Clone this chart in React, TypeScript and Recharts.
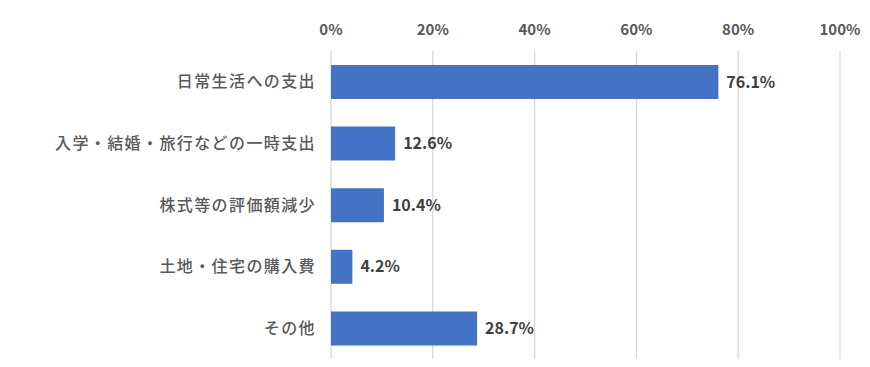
import React from 'react';
import { BarChart, Bar, XAxis, YAxis, CartesianGrid, LabelList } from 'recharts';

const categories = ['日常生活への支出', '入学・結婚・旅行などの一時支出', '株式等の評価額減少', '土地・住宅の購入費', 'その他'];
const shares = [76.1, 12.6, 10.4, 4.2, 28.7];
const xTicks = [0, 20, 40, 60, 80, 100];

const data = categories.map((name, i) => ({ name, value: shares[i] }));

const FONT = '"Noto Sans CJK JP", "Noto Sans", sans-serif';

const App: React.FC = () => {
  return (
    <div style={{ position: 'absolute', left: 0, top: 0, width: 870, height: 367, background: '#fff' }}>
      <BarChart
        width={870}
        height={367}
        data={data}
        layout="vertical"
        margin={{ top: 21, right: 30, bottom: 8, left: 0 }}
        barSize={34}
      >
        <CartesianGrid horizontal={false} stroke="#d9d9d9" strokeWidth={1.3} />
        <XAxis
          type="number"
          orientation="top"
          domain={[0, 100]}
          ticks={xTicks}
          height={30}
          axisLine={false}
          tickLine={false}
          tickMargin={10}
          tickFormatter={(v) => `${v}%`}
          tick={{ fill: '#595959', fontSize: 15, fontWeight: 700, fontFamily: FONT }}
        />
        <YAxis
          type="category"
          dataKey="name"
          width={331}
          axisLine={false}
          tickLine={false}
          tickMargin={9}
          tick={{ fill: '#595959', fontSize: 16, fontWeight: 500, fontFamily: FONT, letterSpacing: 1.4 }}
        />
        <Bar dataKey="value" fill="#4472c4" isAnimationActive={false}>
          <LabelList
            dataKey="value"
            position="right"
            offset={8}
            formatter={(v: any) => `${v}%`}
            style={{ fill: '#404040', fontSize: 16, fontWeight: 700, fontFamily: FONT }}
          />
        </Bar>
      </BarChart>
    </div>
  );
};

export default App;
